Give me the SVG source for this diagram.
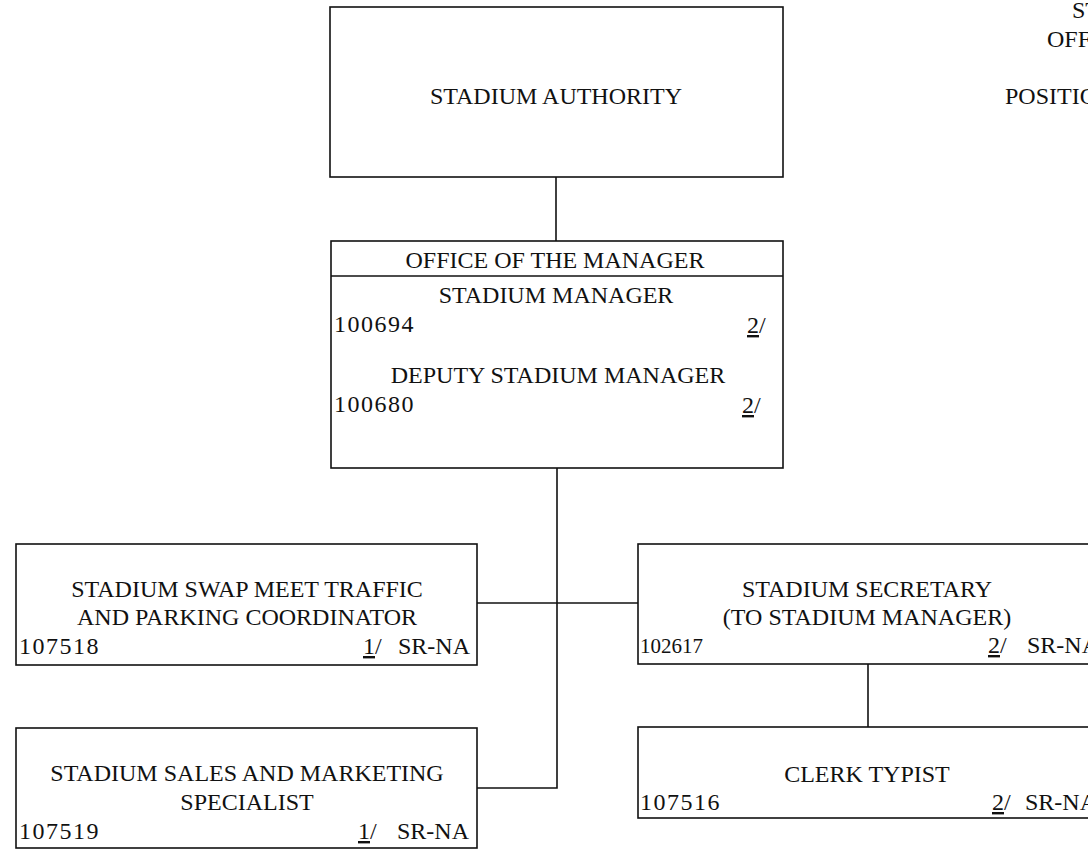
<svg xmlns="http://www.w3.org/2000/svg" width="1088" height="850" viewBox="0 0 1088 850">
<style>
.box{fill:#fff;stroke:#111;stroke-width:1.6}
.ln{fill:none;stroke:#111;stroke-width:1.6}
text{font-family:"Liberation Serif","Times New Roman",serif;font-size:24px;fill:#111}
.c{text-anchor:middle}
.id{letter-spacing:1.5px}
.u{text-decoration:underline}
</style>
<rect width="1088" height="850" fill="#fff"/>
<g id="connectors">
<path class="ln" d="M556 177V241"/>
<path class="ln" d="M557 468V788H477"/>
<path class="ln" d="M477 603H638"/>
<path class="ln" d="M868 664V727"/>
</g>
<g id="title">
<text x="1072" y="18">ST</text>
<text x="1047" y="47">OFF</text>
<text x="1005" y="104">POSITIO</text>
</g>
<g id="authority">
<rect class="box" x="330" y="7" width="453" height="170"/>
<text class="c" x="556" y="104">STADIUM AUTHORITY</text>
</g>
<g id="manager">
<rect class="box" x="331" y="241" width="452" height="227"/>
<path class="ln" d="M331 276H783"/>
<text class="c" x="555" y="268">OFFICE OF THE MANAGER</text>
<text class="c" x="556" y="303">STADIUM MANAGER</text>
<text class="id" x="334" y="332">100694</text>
<text x="747" y="333"><tspan class="u">2</tspan>/</text>
<text class="c" x="558" y="383">DEPUTY STADIUM MANAGER</text>
<text class="id" x="334" y="412">100680</text>
<text x="742" y="413"><tspan class="u">2</tspan>/</text>
</g>
<g id="swapmeet">
<rect class="box" x="16" y="544" width="461" height="121"/>
<text class="c" x="247" y="597">STADIUM SWAP MEET TRAFFIC</text>
<text class="c" x="247" y="625">AND PARKING COORDINATOR</text>
<text class="id" x="19" y="654">107518</text>
<text x="363" y="654"><tspan class="u">1</tspan>/</text>
<text x="398" y="654">SR-NA</text>
</g>
<g id="sales">
<rect class="box" x="16" y="728" width="461" height="120"/>
<text class="c" x="247" y="781">STADIUM SALES AND MARKETING</text>
<text class="c" x="247" y="810">SPECIALIST</text>
<text class="id" x="19" y="839">107519</text>
<text x="358" y="839"><tspan class="u">1</tspan>/</text>
<text x="397" y="839">SR-NA</text>
</g>
<g id="secretary">
<rect class="box" x="638" y="544" width="460" height="120"/>
<text class="c" x="867" y="597">STADIUM SECRETARY</text>
<text class="c" x="867" y="625">(TO STADIUM MANAGER)</text>
<text x="640" y="653" style="font-size:21px">102617</text>
<text x="988" y="653"><tspan class="u">2</tspan>/</text>
<text x="1027" y="653">SR-NA</text>
</g>
<g id="clerk">
<rect class="box" x="638" y="727" width="460" height="91"/>
<text class="c" x="867" y="782">CLERK TYPIST</text>
<text class="id" x="640" y="810">107516</text>
<text x="992" y="810"><tspan class="u">2</tspan>/</text>
<text x="1025" y="810">SR-NA</text>
</g>
</svg>
